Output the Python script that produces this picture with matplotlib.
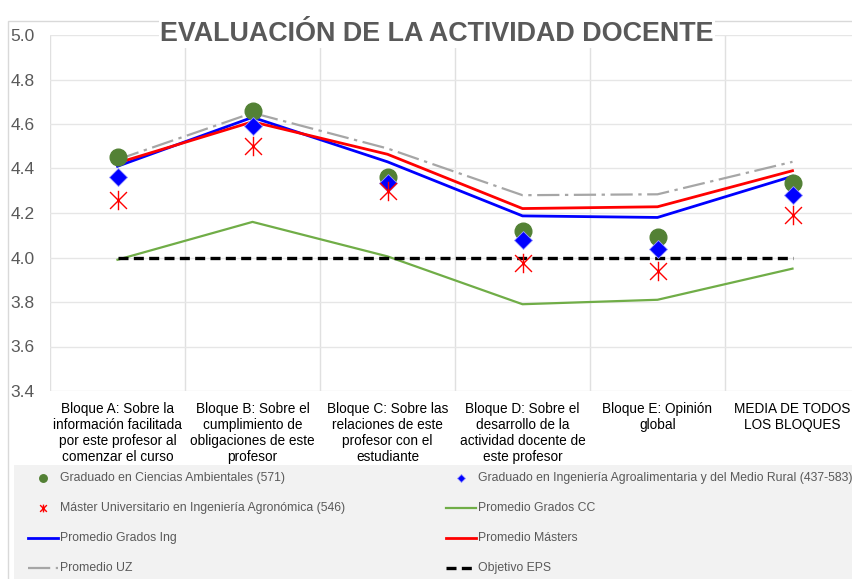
import matplotlib
matplotlib.use('Agg')
import matplotlib.pyplot as plt
from matplotlib.path import Path
from matplotlib.lines import Line2D
from matplotlib.patches import Rectangle

plt.rcParams['font.family'] = ['Liberation Sans', 'DejaVu Sans']

categories = [
    "Bloque A: Sobre la\ninformación facilitada\npor este profesor al\ncomenzar el curso",
    "Bloque B: Sobre el\ncumplimiento de\nobligaciones de este\nprofesor",
    "Bloque C: Sobre las\nrelaciones de este\nprofesor con el\nestudiante",
    "Bloque D: Sobre el\ndesarrollo de la\nactividad docente de\neste profesor",
    "Bloque E: Opinión\nglobal",
    "MEDIA DE TODOS\nLOS BLOQUES",
]
grad_cca = [4.45, 4.66, 4.36, 4.12, 4.09, 4.335]
grad_ing = [4.36, 4.59, 4.335, 4.08, 4.04, 4.28]
master_agro = [4.26, 4.50, 4.30, 3.975, 3.94, 4.19]
prom_cc = [3.99, 4.16, 4.005, 3.79, 3.81, 3.95]
prom_ing = [4.41, 4.63, 4.43, 4.187, 4.18, 4.365]
prom_masters = [4.425, 4.61, 4.464, 4.22, 4.228, 4.39]
prom_uz = [4.44, 4.65, 4.49, 4.28, 4.284, 4.43]
objetivo = [4.0, 4.0, 4.0, 4.0, 4.0, 4.0]
yticks = [3.4, 3.6, 3.8, 4.0, 4.2, 4.4, 4.6, 4.8, 5.0]

labels = [
    "Graduado en Ciencias Ambientales (571)",
    "Graduado en Ingeniería Agroalimentaria y del Medio Rural (437-583)",
    "Máster Universitario en Ingeniería Agronómica (546)",
    "Promedio Grados CC",
    "Promedio Grados Ing",
    "Promedio Másters",
    "Promedio UZ",
    "Objetivo EPS",
]

W, H = 853, 579
fig = plt.figure(figsize=(W / 100, H / 100), dpi=100)

def fx(x):
    return x / W

def fy(y):
    return 1 - y / H

# outer chart border
fig.patches.append(Rectangle((fx(8), fy(600)), fx(880), 1, transform=fig.transFigure,
                             facecolor='none', edgecolor='#d9d9d9', lw=1, zorder=-2))
# legend background
fig.patches.append(Rectangle((fx(14), fy(600)), fx(900), (600 - 465) / H, transform=fig.transFigure,
                             facecolor='#f2f2f2', edgecolor='none', zorder=-1))

ax = fig.add_axes([fx(50), fy(391), fx(810), (391 - 35) / H])
ax.patch.set_alpha(0)
x = list(range(len(categories)))

star_path = Path([(-1, -1), (1, 1), (-1, 1), (1, -1), (0, -1.15), (0, 1.15)],
                 [Path.MOVETO, Path.LINETO] * 3)

GREEN_DOT = '#538135'
styles = {
    'cca': dict(ls='none', marker='o', color=GREEN_DOT, ms=12, mec=GREEN_DOT),
    'ing': dict(ls='none', marker='D', color='#0000ff', ms=9, mec='#9999ff', mew=0.6),
    'mast': dict(ls='none', marker=star_path, color='#ff0000', ms=14, mew=1.0, mfc='none'),
    'cc': dict(color='#70ad47', lw=1.6),
    'pi': dict(color='#0000ff', lw=2.0),
    'pm': dict(color='#ff0000', lw=2.0),
    'uz': dict(color='#a6a6a6', lw=1.6, dashes=(10, 2.5, 1.5, 2.5)),
    'obj': dict(color='#000000', lw=2.4, dashes=(3, 1.6)),
}

ax.plot(x, prom_cc, zorder=2, **styles['cc'])
ax.plot(x, prom_ing, zorder=2, **styles['pi'])
ax.plot(x, prom_masters, zorder=2, **styles['pm'])
ax.plot(x, prom_uz, zorder=2, **styles['uz'])
ax.plot(x, objetivo, zorder=2, **styles['obj'])
ax.plot(x, grad_cca, zorder=3, **styles['cca'])
ax.plot(x, grad_ing, zorder=4, **styles['ing'])
ax.plot(x, master_agro, zorder=5, **styles['mast'])

ax.set_xlim(-0.5, len(categories) - 0.5)
ax.set_ylim(3.4, 5.0)
ax.set_yticks(yticks)
ax.set_yticklabels([f"{v:.1f}" for v in yticks], fontsize=12.5, color='#595959')
ax.set_xticks(x)
ax.set_xticklabels(categories, fontsize=9.8, color='#000000', linespacing=1.17)
ax.set_xticks([i - 0.5 for i in range(len(categories) + 1)], minor=True)
ax.tick_params(axis='both', which='both', length=0)
ax.tick_params(axis='x', pad=8)
ax.tick_params(axis='y', pad=11)
ax.grid(True, axis='y', color='#e6e6e6', lw=1)
ax.grid(True, axis='x', which='minor', color='#e0e0e0', lw=1)
ax.grid(False, axis='x', which='major')
ax.set_axisbelow(True)
for s in ax.spines.values():
    s.set_visible(False)

fig.text(fx(437), fy(34), "EVALUACIÓN DE LA ACTIVIDAD DOCENTE", ha='center', va='center',
         fontsize=19.4, fontweight='bold', color='#595959',
         bbox=dict(facecolor='white', edgecolor='none', pad=1))

# legend (manual)
rows = [478, 508, 538, 568]
cols = [(28, 58, 60), (446, 476, 478)]
keys = ['cca', 'ing', 'mast', 'cc', 'pi', 'pm', 'uz', 'obj']
marker_scale = {'cca': 0.45, 'ing': 0.4, 'mast': 0.4}
for i, (k, lab) in enumerate(zip(keys, labels)):
    r, c = divmod(i, 2)
    x0, x1, xt = cols[c]
    yy = rows[r]
    st = dict(styles[k])
    if st.get('ls') == 'none':
        st['ms'] = st['ms'] * marker_scale[k]
        ln = Line2D([fx((x0 + x1) / 2)], [fy(yy)], transform=fig.transFigure, **st)
    else:
        ln = Line2D([fx(x0), fx(x1)], [fy(yy), fy(yy)], transform=fig.transFigure, **st)
    fig.lines.append(ln)
    fig.text(fx(xt), fy(yy), lab, ha='left', va='center', fontsize=8.8, color='#595959')

fig.savefig('out.png', dpi=100)
